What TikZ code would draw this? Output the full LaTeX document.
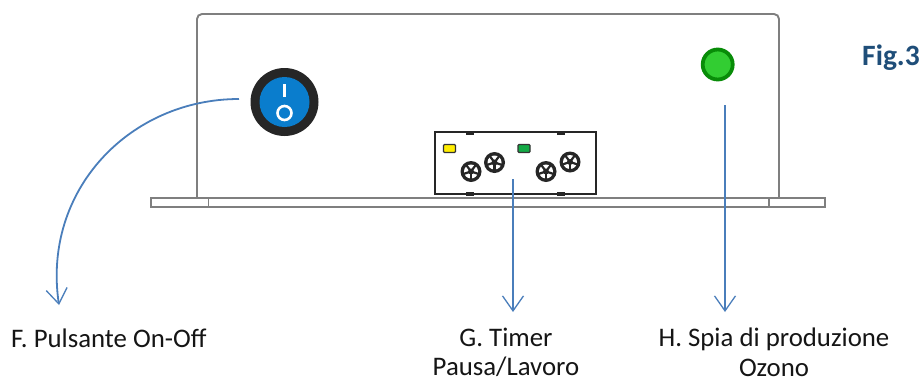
\documentclass[tikz,border=0pt]{standalone}
\usepackage{fontspec}
\setmainfont{Carlito}[Ligatures=TeX]
\usetikzlibrary{arrows.meta}
\definecolor{boxgray}{HTML}{7F7F7F}
\definecolor{arrowblue}{HTML}{4A7EBB}
\definecolor{labeltext}{HTML}{151515}
\definecolor{figblue}{HTML}{1F4E79}
\tikzset{
  body/.style={draw=boxgray,line width=1.9pt},
  thinbody/.style={draw=boxgray,line width=1.8pt,fill=white},
  leader/.style={draw=arrowblue,line width=1.8pt,-{Straight Barb[length=15pt,width=21pt,line width=1.3pt]}},
  lbl/.style={font=\fontsize{26.8}{29.5}\selectfont,text=labeltext,align=center,inner sep=0pt},
  screw/.pic={
    \fill[black!85] (0,0) circle (10.5);
    \fill[white] (0,0) circle (7);
    \foreach \a in {90,162,234,306,18}{
      \draw[black!85,line width=2.2pt] (0,0) -- ++(\a:8);
    }
    \fill[black!85] (0,0) circle (3);
  },
}
\begin{document}
\begin{tikzpicture}[x=1pt,y=-1pt]
\useasboundingbox (0,0) rectangle (921,381);
\fill[white] (0,0) rectangle (921,381);
% enclosure
\draw[body] (197,198) -- (197,19) arc[start angle=180,end angle=90,x radius=5,y radius=-5] -- (774,14) arc[start angle=90,end angle=0,x radius=5,y radius=-5] -- (779,198);
\draw[thinbody] (151,198) rectangle (825,207);
\draw[thinbody] (208.5,198) -- (208.5,207);
\draw[thinbody] (769,198) -- (769,207);
% timer
\node[draw=black!85,line width=1.8pt,fill=white,minimum width=161pt,minimum height=62pt,inner sep=0pt,anchor=center] (timer) at (515.5,163) {};
\foreach \x in {470,560.5}{
  \fill[black!85] (\x-4,131) rectangle (\x+4,135);
  \fill[black!85] (\x-4,192) rectangle (\x+4,195.5);
}
\node[draw=black!80,fill=yellow!95!orange,line width=1.2pt,rounded corners=1pt,minimum width=12pt,minimum height=8pt,inner sep=0pt] (ledy) at (449.5,148.5) {};
\node[draw=black!80,fill={rgb,255:red,20;green,170;blue,70},line width=1.2pt,rounded corners=1pt,minimum width=12pt,minimum height=8pt,inner sep=0pt] (ledg) at (524,148.5) {};
\pic at (471,171.5) {screw};
\pic at (494.5,162.5) {screw};
\pic at (546,171.5) {screw};
\pic at (570,162) {screw};
% switch
\node[circle,fill=black!85,minimum size=68pt,inner sep=0pt] (switch) at (284.5,102) {};
\fill[color={rgb,255:red,10;green,125;blue,205}] (switch.center) circle (25);
\draw[white,line width=2.4pt] (284.5,84) -- (284.5,97);
\node[circle,draw=white,line width=2.6pt,minimum size=14pt,inner sep=0pt] (swo) at (284.5,113) {};
% lamp
\node[circle,draw={rgb,255:red,8;green,140;blue,8},fill={rgb,255:red,50;green,205;blue,50},line width=3.8pt,minimum size=30pt,inner sep=0pt] (lamp) at (717.7,64.5) {};
% labels
\node[lbl,anchor=west] (F) at (11,338) {F. Pulsante On-Off};
\node[lbl] (G) at (506,352.5) {G. Timer\\Pausa/Lavoro};
\node[lbl] (H) at (774,352.5) {H. Spia di produzione\\Ozono};
\node[font=\fontsize{29.5}{30}\selectfont\bfseries,text=figblue,anchor=west,inner sep=0pt] (fig) at (862,58) {Fig.3};
% connectors
\coordinate (fs) at (239,99);
\coordinate (fe) at (59,305);
\coordinate (gs) at (513,179);
\coordinate (ge) at (513,312);
\coordinate (hs) at (725,105);
\coordinate (he) at (725,312);
\draw[leader] (fs) .. controls (130,99) and (42,190) .. (fe);
\draw[leader] (gs) -- (ge);
\draw[leader] (hs) -- (he);
\end{tikzpicture}
\end{document}
